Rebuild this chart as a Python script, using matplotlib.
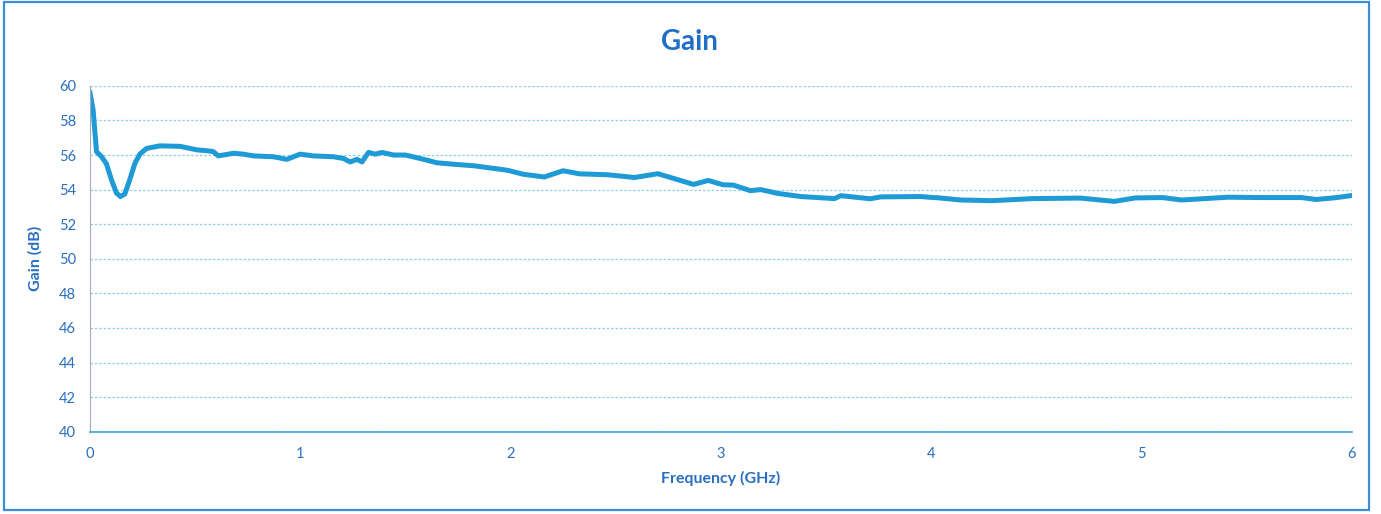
import matplotlib.pyplot as plt
from matplotlib.patches import Rectangle

# gain trace
freq_ghz = [0.0, 0.016, 0.032, 0.056, 0.079, 0.103, 0.127, 0.146, 0.167, 0.19,
            0.214, 0.238, 0.27, 0.333, 0.43, 0.508, 0.556, 0.587, 0.611, 0.683,
            0.730, 0.778, 0.873, 0.937, 1.0, 1.063, 1.159, 1.206, 1.238, 1.27,
            1.294, 1.325, 1.357, 1.389, 1.444, 1.5, 1.571, 1.651, 1.746, 1.825,
            1.985, 2.06, 2.16, 2.25, 2.33, 2.46, 2.59, 2.70, 2.78, 2.87,
            2.94, 3.01, 3.06, 3.14, 3.19, 3.27, 3.38, 3.54, 3.57, 3.71,
            3.76, 3.95, 4.0, 4.03, 4.14, 4.29, 4.48, 4.71, 4.87, 4.97,
            5.10, 5.19, 5.41, 5.57, 5.76, 5.83, 5.92, 6.0]
gain_db = [59.67, 58.6, 56.2, 55.9, 55.5, 54.57, 53.8, 53.6, 53.75, 54.57,
           55.5, 56.05, 56.38, 56.53, 56.5, 56.3, 56.25, 56.2, 55.95, 56.1,
           56.05, 55.95, 55.9, 55.75, 56.05, 55.95, 55.9, 55.8, 55.6, 55.75,
           55.6, 56.15, 56.05, 56.15, 56.0, 56.0, 55.8, 55.55, 55.45, 55.38,
           55.12, 54.89, 54.73, 55.09, 54.91, 54.86, 54.70, 54.92, 54.63, 54.30,
           54.53, 54.28, 54.26, 53.94, 54.0, 53.78, 53.60, 53.48, 53.65, 53.47,
           53.58, 53.6, 53.55, 53.53, 53.4, 53.36, 53.48, 53.51, 53.32, 53.52,
           53.54, 53.4, 53.56, 53.54, 53.54, 53.43, 53.53, 53.66]

x_ticks = [0, 1, 2, 3, 4, 5, 6]
y_ticks = list(range(40, 61, 2))

text_blue = '#2a6fc0'
plt.rcParams['font.family'] = ['Lato', 'DejaVu Sans']

fig = plt.figure(figsize=(13.81, 5.14), dpi=100)
ax = fig.add_axes([0.065, 0.160, 0.914, 0.673])

ax.plot(freq_ghz, gain_db, color='#1e9ad6', lw=3.6, solid_joinstyle='round',
        solid_capstyle='round')

ax.set_xlim(0, 6)
ax.set_ylim(40, 60)
ax.set_xticks(x_ticks)
ax.set_yticks(y_ticks)
ax.tick_params(length=0, labelsize=10.5, labelcolor=text_blue)
ax.tick_params(axis='x', pad=11)
ax.tick_params(axis='y', pad=10)
ax.grid(axis='y', color='#8fcdec', lw=0.9, ls=(0, (2, 1.5)))
ax.set_axisbelow(True)

for side in ['top', 'right']:
    ax.spines[side].set_visible(False)
ax.spines['left'].set_color('#a8a8b8')
ax.spines['bottom'].set_color('#3aa3dd')
ax.spines['bottom'].set_linewidth(1.2)

ax.set_title('Gain', fontsize=20, fontweight='bold', color='#1f6fc9', pad=26, x=0.475)
ax.set_xlabel('Frequency (GHz)', fontsize=11.5, fontweight='bold', color=text_blue, labelpad=7)
ax.set_ylabel('Gain (dB)', fontsize=11.5, fontweight='bold', color=text_blue, labelpad=12)

fig.patches.append(Rectangle((0.003, 0.008), 0.988, 0.988, transform=fig.transFigure,
                             fill=False, edgecolor='#3b8ed8', lw=1.6))

fig.savefig('out.png', dpi=100)
